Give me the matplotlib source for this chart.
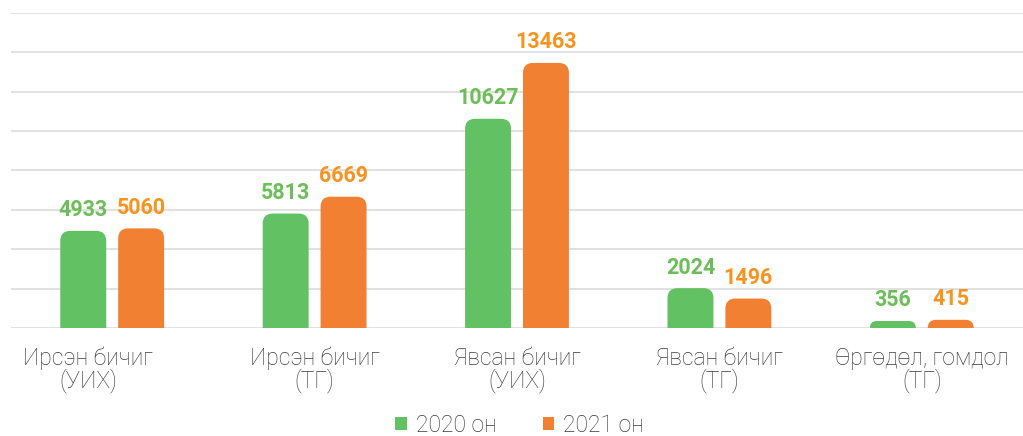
import numpy as np
import matplotlib.pyplot as plt
from matplotlib.path import Path
from matplotlib.patches import PathPatch
from matplotlib.transforms import ScaledTranslation

categories = ["Ирсэн бичиг\n(УИХ)", "Ирсэн бичиг\n(ТГ)", "Явсан бичиг\n(УИХ)",
              "Явсан бичиг\n(ТГ)", "Өргөдөл, гомдол\n(ТГ)"]
v2020 = [4933, 5813, 10627, 2024, 356]
v2021 = [5060, 6669, 13463, 1496, 415]
series = [("2020 он", v2020, "#62c162", "#6cbf58"),
          ("2021 он", v2021, "#f28033", "#f7931e")]

W, H = 1023, 436
fig = plt.figure(figsize=(W / 100, H / 100), dpi=100)
ax = fig.add_axes([11 / W, 108 / H, 1 - 11 / W, (328 - 13) / H])
ax.set_xlim(-0.5, len(categories) - 0.5)
ax.set_ylim(0, 16000)

for s in ax.spines.values():
    s.set_visible(False)
ax.set_yticks(np.arange(0, 16001, 2000))
ax.yaxis.grid(True, color="#dcdcdc", linewidth=1.2)
ax.set_axisbelow(True)
ax.tick_params(axis="y", left=False, labelleft=False)
ax.tick_params(axis="x", bottom=False, pad=10)

# pixels per data unit, for rounding the tops
px_x = ax.bbox.width / (ax.get_xlim()[1] - ax.get_xlim()[0])
px_y = ax.bbox.height / (ax.get_ylim()[1] - ax.get_ylim()[0])


def rounded_bar(x0, w, h, r_px=10):
    r_px = min(r_px, h * px_y, w * px_x / 2)
    rx, ry = r_px / px_x, r_px / px_y
    x1, top = x0 + w, h
    verts = [(x0, 0), (x0, top - ry), (x0, top), (x0 + rx, top),
             (x1 - rx, top), (x1, top), (x1, top - ry), (x1, 0), (x0, 0)]
    codes = [Path.MOVETO, Path.LINETO, Path.CURVE3, Path.CURVE3,
             Path.LINETO, Path.CURVE3, Path.CURVE3, Path.LINETO, Path.CLOSEPOLY]
    return Path(verts, codes)


x = np.arange(len(categories))
bw = 0.227
offs = [-0.143, 0.143]
for (name, vals, col, lcol), off in zip(series, offs):
    for xi, v in zip(x, vals):
        ax.add_patch(PathPatch(rounded_bar(xi + off - bw / 2, bw, v),
                               facecolor=col, edgecolor="none"))
        ax.annotate(str(v), (xi + off, v), xytext=(0, 10.5), textcoords="offset points",
                    ha="center", va="baseline", color=lcol, fontsize=15.5,
                    fontweight="bold", family="Roboto")
    ax.bar([0], [0], color=col, label=name)

ax.set_xticks(x)
ax.set_xticklabels(categories, fontsize=16.5, color="#3a3a3a", family="Roboto",
                   fontweight="light", linespacing=0.92)
first = ax.get_xticklabels()[0]
first.set_transform(first.get_transform() + ScaledTranslation(-24 / 100, 0, fig.dpi_scale_trans))

fig.legend(loc="center", bbox_to_anchor=(0.508, 0.024), ncol=2, frameon=False,
           prop={"family": "Roboto", "weight": "light", "size": 16.5},
           handlelength=0.5, handleheight=0.5, handletextpad=0.4, columnspacing=2.0,
           labelcolor="#3a3a3a", borderpad=0)

fig.savefig("out.png", dpi=100)
